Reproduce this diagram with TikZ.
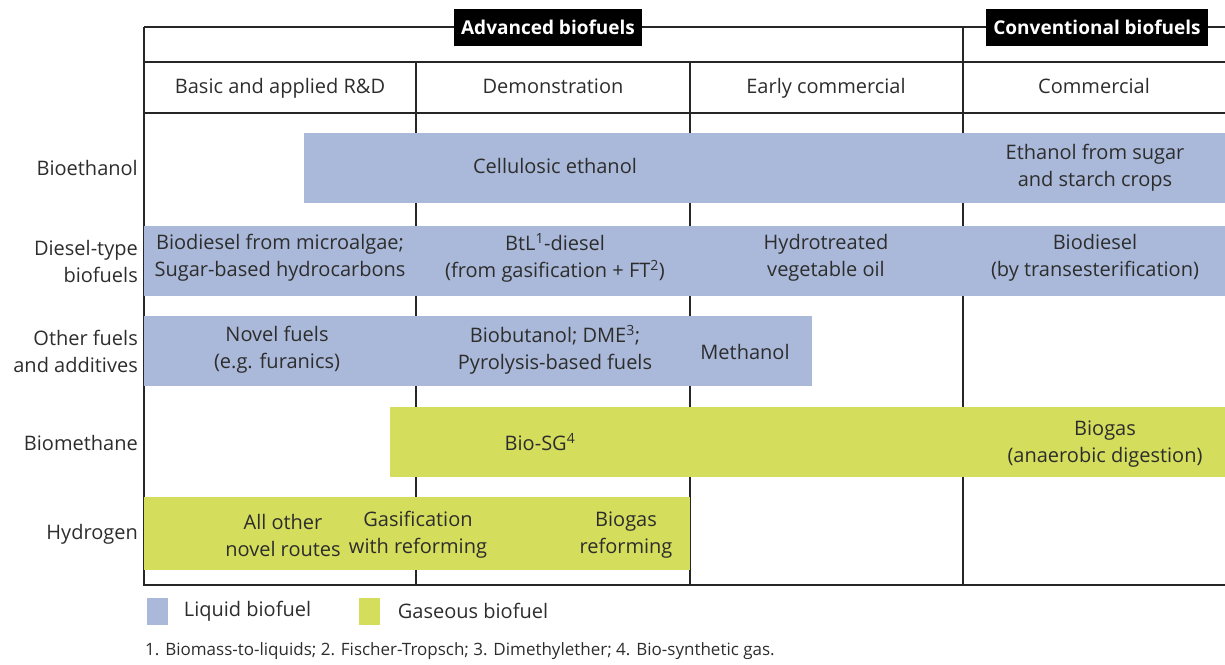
\documentclass[tikz,border=0pt]{standalone}
\usepackage{fontspec}
\setmainfont{Open Sans}
\usetikzlibrary{positioning}
\definecolor{liquid}{RGB}{170,185,217}
\definecolor{gaseous}{RGB}{212,221,92}
\definecolor{ink}{RGB}{45,45,45}
\begin{document}
\begin{tikzpicture}[x=1pt,y=-1pt,
    grid/.style={line width=1.8pt,color=black!85},
    liquidbar/.style={fill=liquid},
    gasbar/.style={fill=gaseous},
    cell/.style={align=center,text=ink,inner sep=0pt,
      font=\fontsize{20}{27}\selectfont},
    rowlabel/.style={cell,align=right,anchor=east},
    stage/.style={fill=black,text=white,inner xsep=7pt,inner ysep=0pt,
      minimum height=37pt,font=\fontsize{19}{20}\selectfont\bfseries},
    key/.style={minimum width=21pt,minimum height=27pt,inner sep=0pt}]
  \useasboundingbox (0,0) rectangle (1225,664);
  % frame
  \draw[grid] (144,27) -- (1225,27);
  \draw[grid] (144,27) -- (144,585) -- (1225,585);
  \foreach \y in {62,113}
    \draw[grid] (144,\y) -- (1225,\y);
  \foreach \x in {416,690}
    \draw[grid] (\x,62) -- (\x,585);
  \draw[grid] (963,27) -- (963,585);
  % stage boxes
  \node[stage] (advanced) at (548,27) {Advanced biofuels};
  \node[stage] (conventional) at (1097,27) {Conventional biofuels};
  \foreach \x/\t [count=\i] in {280/Basic and applied R\&D,553/Demonstration,
      826/Early commercial,1094/Commercial}
    \node[cell,anchor=base] (stage \i) at (\x,93) {\t};
  % bars
  \fill[liquidbar] (304,133) rectangle (1225,203);
  \fill[liquidbar] (144,226) rectangle (1225,296);
  \fill[liquidbar] (144,316) rectangle (812,386);
  \fill[gasbar] (390,407) rectangle (1225,477);
  \fill[gasbar] (144,497) rectangle (690,570);
  % row labels
  \node[rowlabel] (bioethanol) at (138,168) {Bioethanol};
  \node[rowlabel] (diesel) at (138,261) {Diesel-type\\biofuels};
  \node[rowlabel] (other) at (138,351) {Other fuels\\and additives};
  \node[rowlabel] (biomethane) at (138,443) {Biomethane};
  \node[rowlabel] (hydrogen) at (138,534) {Hydrogen};
  % bioethanol
  \node[cell] (cellulosic) at (555,166) {Cellulosic ethanol};
  \node[cell] (sugar) at (1095,168) {Ethanol from sugar\\and starch crops};
  % diesel-type
  \node[cell] (microalgae) at (280,258) {Biodiesel from microalgae;\\Sugar-based hydrocarbons};
  \node[cell] (btl) at (555,258) {BtL\textsuperscript{1}-diesel\\(from gasification + FT\textsuperscript{2})};
  \node[cell] (hvo) at (826,258) {Hydrotreated\\vegetable oil};
  \node[cell] (fame) at (1095,258) {Biodiesel\\(by transesterification)};
  % other fuels
  \node[cell] (novel) at (277,350) {Novel fuels\\(e.g. furanics)};
  \node[cell] (biobutanol) at (555,350) {Biobutanol; DME\textsuperscript{3};\\Pyrolysis-based fuels};
  \node[cell] (methanol) at (745,352) {Methanol};
  % biomethane
  \node[cell] (biosg) at (540,442) {Bio-SG\textsuperscript{4}};
  \node[cell] (biogas) at (1105,444) {Biogas\\(anaerobic digestion)};
  % hydrogen
  \node[cell] (routes) at (283,535) {All other\\novel routes};
  \node[cell] (gasification) at (418,535) {Gasification\\with reforming};
  \node[cell] (reforming) at (626,535) {Biogas\\reforming};
  % legend
  \node[key,fill=liquid] (liquid key) at (157,611) {};
  \node[cell,right=16pt of liquid key] (liquid text) {Liquid biofuel};
  \node[key,fill=gaseous] (gas key) at (369,611) {};
  \node[cell,right=18pt of gas key] (gas text) {Gaseous biofuel};
  \node[cell,anchor=west,font=\fontsize{17}{20}\selectfont] (notes) at (145,651)
    {1. Biomass-to-liquids; 2. Fischer-Tropsch; 3. Dimethylether; 4. Bio-synthetic gas.};
\end{tikzpicture}
\end{document}
